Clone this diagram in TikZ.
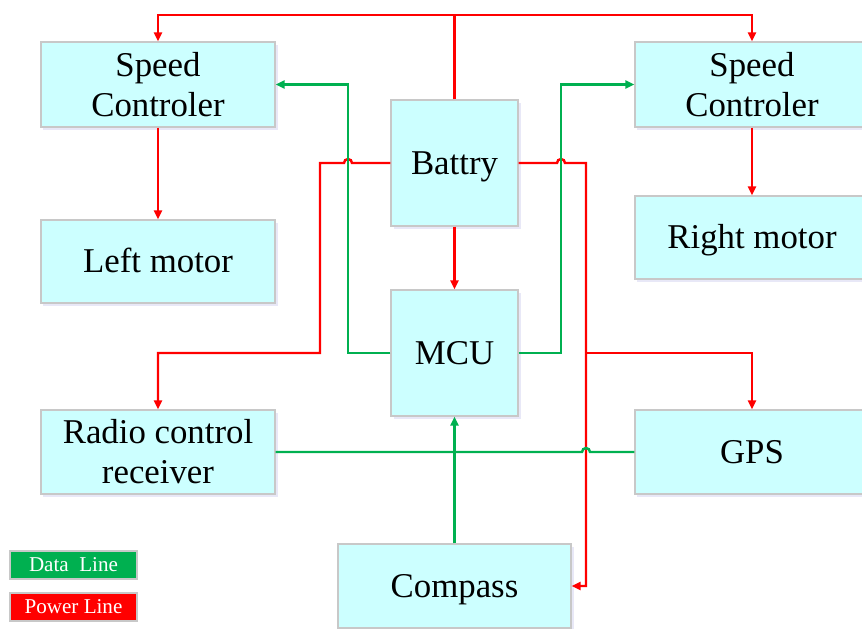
\documentclass[tikz,border=0pt]{standalone}
\usepackage{fontspec}
\setmainfont{Liberation Serif}
\usetikzlibrary{arrows.meta,shadows}

\definecolor{kasten}{HTML}{CCFFFF}
\definecolor{rahmen}{HTML}{C8C8C8}
\definecolor{datagruen}{HTML}{00B050}

\tikzset{
	block/.style={draw=rahmen, fill=kasten, line width=0.6pt, inner sep=0pt,
		minimum width=46.8mm, minimum height=17mm, align=center,
		font=\fontsize{19.8}{22.8}\selectfont,
		drop shadow={opacity=0.12, shadow xshift=0.5mm, shadow yshift=-0.6mm, fill=blue!50!gray}},
	einzeilig/.style={text height=13pt, text depth=0pt},
	quadrat/.style={block, einzeilig, minimum width=25.4mm, minimum height=25.2mm},
	legende/.style={draw=rahmen, line width=0.6pt, minimum width=25.4mm, minimum height=5.6mm,
		inner sep=0pt, text=white, font=\fontsize{12}{14}\selectfont},
	power/.style={red, line width=1.4pt, -{Triangle[length=1.8mm,width=1.6mm]}},
	data/.style={datagruen, line width=1.4pt, -{Triangle[length=1.8mm,width=1.6mm]}}
}

\begin{document}
\begin{tikzpicture}[x=0.2mm, y=-0.2mm]
			\useasboundingbox (0,0) rectangle (862,628);
			
			% Bloecke
			\node[block] (spdL) at (158,84.5) {Speed\\Controler};
			\node[block] (spdR) at (752,84.5) {Speed\\Controler};
			\node[block, einzeilig, minimum height=16.6mm] (motL) at (158,261.5) {Left motor};
			\node[block, einzeilig, minimum height=16.6mm] (motR) at (752,237.5) {Right motor};
			\node[quadrat] (bat) at (454.5,163) {Battry};
			\node[quadrat] (mcu) at (454.5,353) {MCU};
			\node[block, minimum height=16.8mm] (radio) at (158,452) {Radio control\\receiver};
			\node[block, einzeilig, minimum height=16.8mm] (gps) at (752,452) {GPS};
			\node[block, einzeilig, minimum width=46.6mm, minimum height=16.8mm] (compass) at (454.5,586) {Compass};
			
			% Legende
			\node[legende, fill=datagruen] (legData) at (73.5,565) {Data\ \ Line};
			\node[legende, fill=red] (legPower) at (73.5,607) {Power Line};
			
			% Stromleitungen
			\coordinate (oben) at (454.5,15);
			\draw[power] (bat.north) -- (oben) -| (spdL.north);
			\draw[power] (oben) -| (spdR.north);
			\draw[power] (spdL.south) -- (motL.north);
			\draw[power] (spdR.south) -- (motR.north);
			\draw[power] (bat.south) -- (mcu.north);
			\draw[power] (bat.west) -- (352,163) arc[start angle=0, end angle=180, radius=0.8mm]
				-- (320,163) -- (320,353) -| (radio.north);
			\draw[power] (bat.east) -- (557,163) arc[start angle=180, end angle=0, radius=0.8mm]
				-- (586,163) |- (compass.east);
			\coordinate (abzw) at (586,353);
			\draw[power] (abzw) -| (gps.north);
			
			% Datenleitungen
			\draw[data] (mcu.west) -- (348,353) |- (spdL.east);
			\draw[data] (mcu.east) -- (561,353) |- (spdR.west);
			\draw[data] (compass.north) -- (mcu.south);
			\draw[data, -] (radio.east) -- (582,452) arc[start angle=180, end angle=0, radius=0.8mm]
				-- (gps.west);
			
		\end{tikzpicture}
\end{document}
